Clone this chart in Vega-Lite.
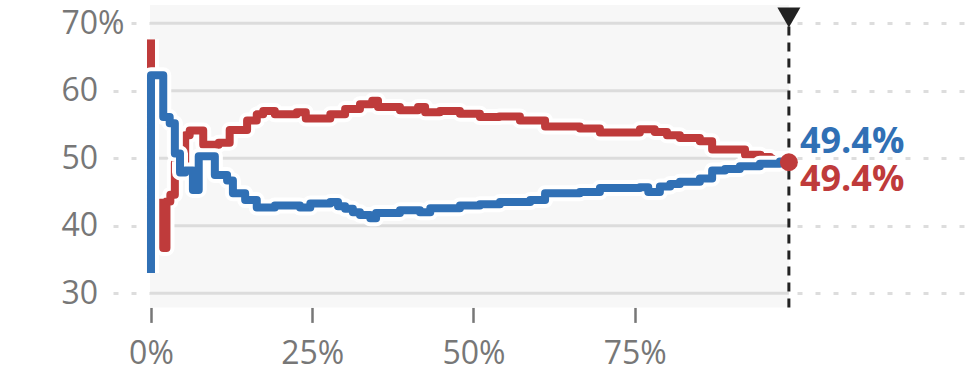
{
  "$schema": "https://vega.github.io/schema/vega-lite/v6.json",
  "autosize": "none",
  "width": 857,
  "height": 302.4,
  "padding": {"left": 113, "top": 5, "right": 0, "bottom": 64.6},
  "background": "white",
  "config": {"view": {"stroke": null}},
  "datasets": {
    "status": [{"reported": 98.9, "start": -0.15, "pct": 49.4, "label": "49.4%", "ymin": 27.9, "ymax": 72.7, "ytop": 70.6, "ymark": 70.85}],
    "grid": [{"v": 30}, {"v": 40}, {"v": 50}, {"v": 60}, {"v": 70}],
    "blue": [
      {"i": 1, "s": 1, "x": 0, "y": 33.0}, {"i": 2, "s": 1, "x": 0, "y": 62.3}, {"i": 3, "s": 1, "x": 1.9, "y": 56.1},
      {"i": 4, "s": 1, "x": 2.9, "y": 55.2}, {"i": 5, "s": 1, "x": 3.7, "y": 50.7}, {"i": 6, "s": 1, "x": 4.5, "y": 47.9},
      {"i": 7, "s": 1, "x": 5.3, "y": 48.2}, {"i": 8, "s": 1, "x": 6.5, "y": 45.3}, {"i": 9, "s": 1, "x": 7.4, "y": 50.3},
      {"i": 10, "s": 1, "x": 9.9, "y": 47.5}, {"i": 11, "s": 1, "x": 11.8, "y": 46.7}, {"i": 12, "s": 1, "x": 12.7, "y": 44.8},
      {"i": 13, "s": 1, "x": 14.6, "y": 43.8}, {"i": 14, "s": 1, "x": 16.4, "y": 42.7}, {"i": 15, "s": 1, "x": 19.2, "y": 43.0},
      {"i": 16, "s": 1, "x": 23.1, "y": 42.7}, {"i": 17, "s": 1, "x": 24.7, "y": 43.3}, {"i": 18, "s": 1, "x": 27.8, "y": 43.5},
      {"i": 19, "s": 1, "x": 29.0, "y": 42.9}, {"i": 20, "s": 1, "x": 30.1, "y": 42.5}, {"i": 21, "s": 1, "x": 31.3, "y": 42.0},
      {"i": 22, "s": 1, "x": 32.4, "y": 41.6}, {"i": 23, "s": 1, "x": 34.0, "y": 41.1}, {"i": 24, "s": 1, "x": 34.9, "y": 41.9},
      {"i": 25, "s": 1, "x": 38.6, "y": 42.3}, {"i": 26, "s": 1, "x": 41.7, "y": 42.0}, {"i": 27, "s": 1, "x": 43.3, "y": 42.6},
      {"i": 28, "s": 1, "x": 47.9, "y": 43.0}, {"i": 29, "s": 1, "x": 51.0, "y": 43.2}, {"i": 30, "s": 1, "x": 54.1, "y": 43.5},
      {"i": 31, "s": 1, "x": 58.8, "y": 43.8}, {"i": 32, "s": 1, "x": 61.1, "y": 44.8}, {"i": 33, "s": 1, "x": 66.5, "y": 45.0},
      {"i": 34, "s": 1, "x": 69.6, "y": 45.6}, {"i": 35, "s": 1, "x": 75.8, "y": 45.7}, {"i": 36, "s": 1, "x": 77.1, "y": 45.0},
      {"i": 37, "s": 1, "x": 78.9, "y": 45.8}, {"i": 38, "s": 1, "x": 80.5, "y": 46.2}, {"i": 39, "s": 1, "x": 82.0, "y": 46.5},
      {"i": 40, "s": 1, "x": 85.1, "y": 47.0}, {"i": 41, "s": 1, "x": 87.0, "y": 48.2}, {"i": 42, "s": 1, "x": 89.0, "y": 48.4},
      {"i": 43, "s": 1, "x": 91.3, "y": 48.8}, {"i": 44, "s": 1, "x": 94.4, "y": 49.2}, {"i": 45, "s": 1, "x": 97.5, "y": 49.5},
      {"i": 46, "s": 1, "x": 98.9, "y": 49.4}
    ],
    "red": [
      {"i": 1, "s": 1, "x": 0, "y": 67.6}, {"i": 2, "s": 1, "x": 0, "y": 63.3},
      {"i": 3, "s": 2, "x": 1.9, "y": 44.0}, {"i": 4, "s": 2, "x": 1.9, "y": 36.7}, {"i": 5, "s": 2, "x": 2.4, "y": 43.6},
      {"i": 6, "s": 2, "x": 3.0, "y": 44.6}, {"i": 7, "s": 2, "x": 3.7, "y": 49.3}, {"i": 8, "s": 2, "x": 5.3, "y": 53.4},
      {"i": 9, "s": 2, "x": 6.0, "y": 54.1}, {"i": 10, "s": 2, "x": 8.1, "y": 52.0}, {"i": 11, "s": 2, "x": 10.5, "y": 52.3},
      {"i": 12, "s": 2, "x": 12.2, "y": 54.2}, {"i": 13, "s": 2, "x": 14.9, "y": 55.6}, {"i": 14, "s": 2, "x": 16.4, "y": 56.5},
      {"i": 15, "s": 2, "x": 17.4, "y": 57.0}, {"i": 16, "s": 2, "x": 19.2, "y": 56.5}, {"i": 17, "s": 2, "x": 22.6, "y": 56.8},
      {"i": 18, "s": 2, "x": 24.0, "y": 55.9}, {"i": 19, "s": 2, "x": 27.8, "y": 56.5}, {"i": 20, "s": 2, "x": 30.1, "y": 57.3},
      {"i": 21, "s": 2, "x": 32.4, "y": 58.0}, {"i": 22, "s": 2, "x": 34.3, "y": 58.5}, {"i": 23, "s": 2, "x": 35.2, "y": 57.6},
      {"i": 24, "s": 2, "x": 38.6, "y": 57.1}, {"i": 25, "s": 2, "x": 41.4, "y": 57.6}, {"i": 26, "s": 2, "x": 42.5, "y": 56.8},
      {"i": 27, "s": 2, "x": 44.8, "y": 57.0}, {"i": 28, "s": 2, "x": 47.9, "y": 56.6}, {"i": 29, "s": 2, "x": 51.0, "y": 56.1},
      {"i": 30, "s": 2, "x": 54.0, "y": 56.2}, {"i": 31, "s": 2, "x": 57.2, "y": 55.6}, {"i": 32, "s": 2, "x": 61.1, "y": 54.7},
      {"i": 33, "s": 2, "x": 66.5, "y": 54.4}, {"i": 34, "s": 2, "x": 69.6, "y": 53.8}, {"i": 35, "s": 2, "x": 75.8, "y": 54.3},
      {"i": 36, "s": 2, "x": 78.1, "y": 53.9}, {"i": 37, "s": 2, "x": 80.0, "y": 53.4}, {"i": 38, "s": 2, "x": 82.0, "y": 53.0},
      {"i": 39, "s": 2, "x": 85.1, "y": 52.5}, {"i": 40, "s": 2, "x": 87.0, "y": 51.3}, {"i": 41, "s": 2, "x": 92.1, "y": 50.5},
      {"i": 42, "s": 2, "x": 94.5, "y": 50.2}, {"i": 43, "s": 2, "x": 96.0, "y": 49.9}, {"i": 44, "s": 2, "x": 98.9, "y": 49.4}
    ]
  },
  "layer": [
    {
      "data": {"name": "status"},
      "mark": {"type": "rect", "color": "#f7f7f7"},
      "encoding": {
        "x": {"field": "start", "type": "quantitative", "scale": {"domain": [-5.89, 126.98], "nice": false, "zero": false},
          "axis": {"values": [0, 25, 50, 75], "labelExpr": "datum.value + '%'", "title": null, "domain": false, "grid": false,
            "ticks": true, "tickColor": "#777", "tickWidth": 2.5, "tickSize": 15, "labelPadding": 16,
            "labelFont": "Open Sans", "labelFontSize": 32, "labelColor": "#777"}},
        "x2": {"field": "reported"},
        "y": {"field": "ymin", "type": "quantitative", "scale": {"domain": [27.9, 72.7], "nice": false, "zero": false},
          "axis": {"values": [30, 40, 50, 60, 70], "labelExpr": "datum.value == 70 ? '70%' : datum.label", "title": null,
            "domain": false, "ticks": false, "tickSize": 0, "labelPadding": 52, "labelAlign": "left", "labelBaseline": "middle",
            "labelFont": "Open Sans", "labelFontSize": 32, "labelColor": "#777",
            "grid": true, "gridColor": "#dddddd", "gridWidth": 3, "gridDash": [5, 13]}},
        "y2": {"field": "ymax"}
      }
    },
    {
      "data": {"name": "grid"},
      "mark": {"type": "rule", "color": "#dcdcdc", "strokeWidth": 3},
      "encoding": {
        "y": {"field": "v", "type": "quantitative", "scale": {"domain": [27.9, 72.7], "nice": false, "zero": false}},
        "x": {"datum": -0.15, "type": "quantitative", "scale": {"domain": [-5.89, 126.98], "nice": false, "zero": false}},
        "x2": {"datum": 98.9}
      }
    },
    {
      "data": {"name": "red"},
      "mark": {"type": "line", "color": "white", "strokeWidth": 16, "interpolate": "step-after", "strokeJoin": "round", "strokeCap": "butt"},
      "encoding": {
        "x": {"field": "x", "type": "quantitative", "scale": {"domain": [-5.89, 126.98], "nice": false, "zero": false}},
        "y": {"field": "y", "type": "quantitative", "scale": {"domain": [27.9, 72.7], "nice": false, "zero": false}},
        "detail": {"field": "s"},
        "order": {"field": "i"}
      }
    },
    {
      "data": {"name": "red"},
      "mark": {"type": "line", "color": "#bf3b3b", "strokeWidth": 8, "interpolate": "step-after", "strokeJoin": "round", "strokeCap": "butt"},
      "encoding": {
        "x": {"field": "x", "type": "quantitative", "scale": {"domain": [-5.89, 126.98], "nice": false, "zero": false}},
        "y": {"field": "y", "type": "quantitative", "scale": {"domain": [27.9, 72.7], "nice": false, "zero": false}},
        "detail": {"field": "s"},
        "order": {"field": "i"}
      }
    },
    {
      "data": {"name": "blue"},
      "mark": {"type": "line", "color": "white", "strokeWidth": 16, "interpolate": "step-after", "strokeJoin": "round", "strokeCap": "butt"},
      "encoding": {
        "x": {"field": "x", "type": "quantitative", "scale": {"domain": [-5.89, 126.98], "nice": false, "zero": false}},
        "y": {"field": "y", "type": "quantitative", "scale": {"domain": [27.9, 72.7], "nice": false, "zero": false}},
        "detail": {"field": "s"},
        "order": {"field": "i"}
      }
    },
    {
      "data": {"name": "blue"},
      "mark": {"type": "line", "color": "#3070b5", "strokeWidth": 8, "interpolate": "step-after", "strokeJoin": "round", "strokeCap": "butt"},
      "encoding": {
        "x": {"field": "x", "type": "quantitative", "scale": {"domain": [-5.89, 126.98], "nice": false, "zero": false}},
        "y": {"field": "y", "type": "quantitative", "scale": {"domain": [27.9, 72.7], "nice": false, "zero": false}},
        "detail": {"field": "s"},
        "order": {"field": "i"}
      }
    },
    {
      "data": {"name": "status"},
      "mark": {"type": "rule", "color": "#222222", "strokeWidth": 3, "strokeDash": [9, 7]},
      "encoding": {
        "x": {"field": "reported", "type": "quantitative", "scale": {"domain": [-5.89, 126.98], "nice": false, "zero": false}},
        "y": {"field": "ymin", "type": "quantitative", "scale": {"domain": [27.9, 72.7], "nice": false, "zero": false}},
        "y2": {"field": "ytop"}
      }
    },
    {
      "data": {"name": "status"},
      "mark": {"type": "point", "shape": "triangle-down", "filled": true, "color": "#222222", "size": 530, "opacity": 1},
      "encoding": {
        "x": {"field": "reported", "type": "quantitative", "scale": {"domain": [-5.89, 126.98], "nice": false, "zero": false}},
        "y": {"field": "ymark", "type": "quantitative", "scale": {"domain": [27.9, 72.7], "nice": false, "zero": false}}
      }
    },
    {
      "data": {"name": "status"},
      "mark": {"type": "circle", "color": "#bf3b3b", "size": 320, "opacity": 1},
      "encoding": {
        "x": {"field": "reported", "type": "quantitative", "scale": {"domain": [-5.89, 126.98], "nice": false, "zero": false}},
        "y": {"field": "pct", "type": "quantitative", "scale": {"domain": [27.9, 72.7], "nice": false, "zero": false}}
      }
    },
    {
      "data": {"name": "status"},
      "mark": {"type": "text", "color": "#3070b5", "font": "Open Sans", "fontWeight": "bold", "fontSize": 36, "align": "left", "baseline": "middle", "dx": 11, "dy": -20},
      "encoding": {
        "x": {"field": "reported", "type": "quantitative", "scale": {"domain": [-5.89, 126.98], "nice": false, "zero": false}},
        "y": {"field": "pct", "type": "quantitative", "scale": {"domain": [27.9, 72.7], "nice": false, "zero": false}},
        "text": {"field": "label"}
      }
    },
    {
      "data": {"name": "status"},
      "mark": {"type": "text", "color": "#bf3b3b", "font": "Open Sans", "fontWeight": "bold", "fontSize": 36, "align": "left", "baseline": "middle", "dx": 11, "dy": 18},
      "encoding": {
        "x": {"field": "reported", "type": "quantitative", "scale": {"domain": [-5.89, 126.98], "nice": false, "zero": false}},
        "y": {"field": "pct", "type": "quantitative", "scale": {"domain": [27.9, 72.7], "nice": false, "zero": false}},
        "text": {"field": "label"}
      }
    }
  ]
}
